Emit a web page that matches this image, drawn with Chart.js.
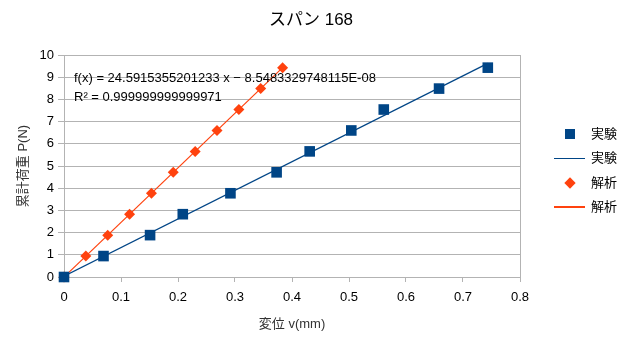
<!DOCTYPE html>
<html>
<head>
<meta charset="utf-8">
<script src="https://cdn.jsdelivr.net/npm/chart.js@4"></script>
<style>
  body { margin: 0; background: #fff; }
  #wrap { position: relative; width: 623px; height: 339px; }
  #legend { position: absolute; left: 550px; top: 122px; font: 13px "Liberation Sans", "Noto Sans CJK JP", sans-serif; color: #000; }
  .item { position: relative; height: 24.4px; line-height: 24.4px; padding-left: 41px; }
  .mark { position: absolute; left: 4px; top: 50%; }
</style>
</head>
<body>
<div id="wrap">
  <canvas id="chart" width="623" height="339"></canvas>
  <div id="legend"></div>
</div>
<script>
// スパン 168 のデータ
const expX = [0, 0.0693, 0.151, 0.2084, 0.292, 0.373, 0.431, 0.504, 0.561, 0.658, 0.7435];
const expY = [0, 0.943, 1.886, 2.829, 3.772, 4.715, 5.658, 6.601, 7.544, 8.487, 9.43];
const anaX = [0, 0.0383, 0.0767, 0.115, 0.1534, 0.1917, 0.2301, 0.2684, 0.3068, 0.3451, 0.3835];
const anaY = [0, 0.943, 1.886, 2.829, 3.772, 4.715, 5.658, 6.601, 7.544, 8.487, 9.43];
const seriesNames = ['実験', '解析'];
const chartTitle = 'スパン 168';
const equationText = ['f(x) = 24.5915355201233 x − 8.5483329748115E-08', 'R² = 0.999999999999971'];

const blue = '#004586';
const red = '#ff420e';
const font = '"Liberation Sans", "Noto Sans CJK JP", sans-serif';

// 最小二乗で近似直線
const fitLine = (xs, ys) => {
    const n = xs.length;
    const mx = xs.reduce((a, b) => a + b, 0) / n;
    const my = ys.reduce((a, b) => a + b, 0) / n;
    let sxy = 0, sxx = 0;
    xs.forEach((x, i) => { sxy += (x - mx) * (ys[i] - my); sxx += (x - mx) * (x - mx); });
    const a = sxy / sxx, b = my - a * mx;
    const x0 = Math.min(...xs), x1 = Math.max(...xs);
    return [{ x: x0, y: a * x0 + b }, { x: x1, y: a * x1 + b }];
};

const toPoints = (xs, ys) => xs.map((x, i) => ({ x, y: ys[i] }));

// タイトルと近似式のテキスト
const textPlugin = {
    id: 'texts',
    afterDraw(chart) {
        const ctx = chart.ctx;
        ctx.save();
        ctx.fillStyle = '#000';
        ctx.textBaseline = 'middle';
        ctx.textAlign = 'center';
        ctx.font = '17px ' + font;
        ctx.fillText(chartTitle, 311, 20);
        ctx.textAlign = 'left';
        ctx.font = '13px ' + font;
        ctx.fillText(equationText[0], 74, 78);
        ctx.fillText(equationText[1], 74, 97);
        ctx.restore();
    }
};

const xTicks = 8;
new Chart(document.getElementById('chart'), {
    type: 'scatter',
    data: {
        datasets: [
            { label: seriesNames[0], data: toPoints(expX, expY), pointStyle: 'rect', pointRadius: 7.5, pointHoverRadius: 7.5,
              backgroundColor: blue, borderColor: blue, borderWidth: 0, order: 0, clip: false },
            { label: seriesNames[0], data: fitLine(expX, expY), showLine: true, pointRadius: 0,
              borderColor: blue, borderWidth: 1.2, order: 2 },
            { label: seriesNames[1], data: toPoints(anaX, anaY), pointStyle: 'rectRot', pointRadius: 5.5, pointHoverRadius: 5.5,
              backgroundColor: red, borderColor: red, borderWidth: 0, order: 1, clip: false },
            { label: seriesNames[1], data: fitLine(anaX, anaY), showLine: true, pointRadius: 0,
              borderColor: red, borderWidth: 1.2, order: 3 }
        ]
    },
    options: {
        responsive: false,
        animation: false,
        layout: { padding: { left: 12, right: 103, top: 55, bottom: 3 } },
        plugins: {
            legend: { display: false },
            tooltip: { enabled: false },
            title: { display: false }
        },
        scales: {
            x: {
                type: 'linear', min: 0, max: 0.8,
                ticks: { stepSize: 0.1, color: '#000', font: { family: font, size: 13 }, padding: 8 },
                grid: {
                    color: (c) => c.index === xTicks ? '#b3b3b3' : 'transparent',
                    tickColor: '#b3b3b3', tickLength: 5
                },
                border: { color: '#b3b3b3' },
                title: { display: true, text: '変位 v(mm)', color: '#333', font: { family: font, size: 13 }, padding: { top: 17 } },
                afterFit: (s) => { s.height = 59; }
            },
            y: {
                min: 0, max: 10,
                ticks: { stepSize: 1, color: '#000', font: { family: font, size: 13 }, padding: 4 },
                grid: { color: '#b3b3b3', tickColor: '#b3b3b3', tickLength: 6 },
                border: { color: '#b3b3b3' },
                title: { display: true, text: '累計荷重 P(N)', color: '#333', font: { family: font, size: 13 }, padding: { bottom: 6 } },
                afterFit: (s) => { s.width = 52; }
            }
        }
    },
    plugins: [textPlugin]
});

// 凡例
const legendItems = [
    { name: seriesNames[0], mark: `width:10px;height:10px;background:${blue};margin-top:-5px;left:15px` },
    { name: seriesNames[0], mark: `width:31px;height:1.5px;background:${blue};margin-top:-1px;left:4px` },
    { name: seriesNames[1], mark: `width:8px;height:8px;background:${red};transform:rotate(45deg);margin-top:-4px;left:16px` },
    { name: seriesNames[1], mark: `width:31px;height:1.5px;background:${red};margin-top:-1px;left:4px` }
];
const legend = document.getElementById('legend');
legendItems.forEach(item => {
    const div = document.createElement('div');
    div.className = 'item';
    const mark = document.createElement('span');
    mark.className = 'mark';
    mark.style.cssText = item.mark;
    div.appendChild(mark);
    div.appendChild(document.createTextNode(item.name));
    legend.appendChild(div);
});
</script>
</body>
</html>
